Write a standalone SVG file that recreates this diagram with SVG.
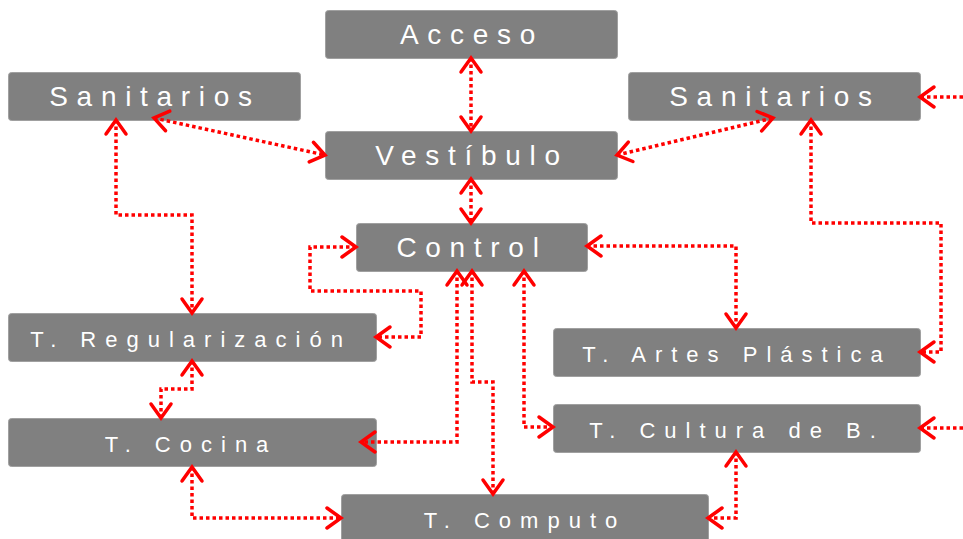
<svg xmlns="http://www.w3.org/2000/svg" width="963" height="539" viewBox="0 0 963 539">
<style>
.box{fill:#808080;stroke:#a0a0a0;stroke-width:1}
.big{font-family:"Liberation Sans",Arial,sans-serif;font-size:28px;letter-spacing:8.7px;fill:#ffffff;text-anchor:middle}
.sm{font-family:"Liberation Sans",Arial,sans-serif;font-size:22px;letter-spacing:9px;fill:#ffffff;text-anchor:middle}
.c{fill:none;stroke:#ff0000;stroke-width:3.5;stroke-dasharray:3.5 3;marker-start:url(#ah);marker-end:url(#ah)}
.c1{fill:none;stroke:#ff0000;stroke-width:3.5;stroke-dasharray:3.5 3;marker-end:url(#ah)}
</style>
<defs>
<marker id="ah" markerUnits="userSpaceOnUse" markerWidth="24" markerHeight="26" refX="15" refY="12" orient="auto-start-reverse" overflow="visible">
<path d="M1,2 L15,12 L1,22" fill="none" stroke="#ff0000" stroke-width="3.5" stroke-dasharray="none" stroke-linejoin="miter" stroke-linecap="round"/>
</marker>
</defs>
<rect width="963" height="539" fill="#ffffff"/>
<g id="n-acceso"><rect class="box" x="325.5" y="10.5" width="292" height="48" rx="3"/><text class="big" x="472" y="44">Acceso</text></g>
<g id="n-sanit-l"><rect class="box" x="8.5" y="72.5" width="292" height="48" rx="3"/><text class="big" x="155" y="106">Sanitarios</text></g>
<g id="n-sanit-r"><rect class="box" x="628.5" y="72.5" width="292" height="48" rx="3"/><text class="big" x="775" y="106">Sanitarios</text></g>
<g id="n-vestibulo"><rect class="box" x="325.5" y="131.5" width="292" height="48" rx="3"/><text class="big" x="472" y="165">Vestíbulo</text></g>
<g id="n-control"><rect class="box" x="356.5" y="223.5" width="231" height="48" rx="3"/><text class="big" x="472" y="257">Control</text></g>
<g id="n-regular"><rect class="box" x="8.5" y="313.5" width="368" height="48" rx="3"/><text class="sm" x="191" y="347">T. Regularización</text></g>
<g id="n-artes"><rect class="box" x="553.5" y="328.5" width="367" height="48" rx="3"/><text class="sm" x="737" y="362">T. Artes Plástica</text></g>
<g id="n-cocina"><rect class="box" x="8.5" y="418.5" width="368" height="48" rx="3"/><text class="sm" x="191" y="452">T. Cocina</text></g>
<g id="n-cultura"><rect class="box" x="553.5" y="404.5" width="367" height="48" rx="3"/><text class="sm" x="737" y="438">T. Cultura de B.</text></g>
<g id="n-computo"><rect class="box" x="341.5" y="494.5" width="367" height="50" rx="3"/><text class="sm" x="525" y="528">T. Computo</text></g>
<g id="connectors">
<path class="c" d="M471,58 L471,131"/>
<path class="c" d="M471,179 L471,223"/>
<path class="c" d="M154,118 L325,155"/>
<path class="c" d="M617,155 L773,118"/>
<path class="c" d="M116,120 L116,215 L192,215 L192,313"/>
<path class="c" d="M811,120 L811,223 L941,223 L941,352 L920,352"/>
<path class="c1" d="M963,97 L920,97"/>
<path class="c1" d="M963,428 L920,428"/>
<path class="c" d="M356,247 L310,247 L310,291 L421,291 L421,337 L376,337"/>
<path class="c" d="M457,271 L457,442 L361,442"/>
<path class="c" d="M472,271 L472,382 L493,382 L493,494"/>
<path class="c" d="M524,271 L524,427 L553,427"/>
<path class="c" d="M587,246 L736,246 L736,328"/>
<path class="c" d="M192,361 L192,389 L161,389 L161,418"/>
<path class="c" d="M192,467 L192,518 L341,518"/>
<path class="c" d="M736,452 L736,518 L708,518"/>
</g>
</svg>
